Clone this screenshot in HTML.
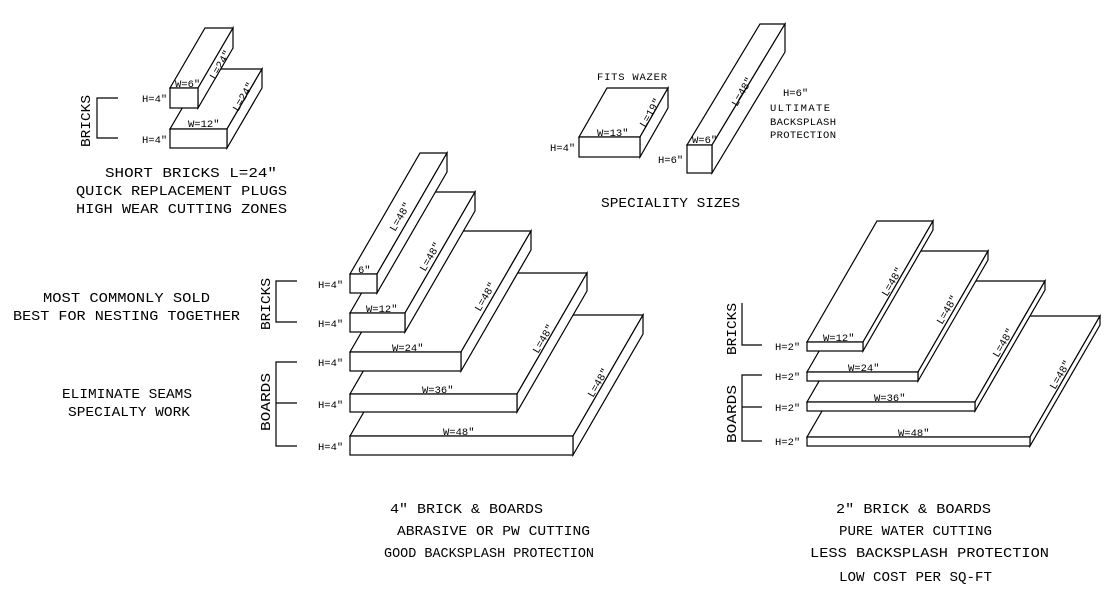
<!DOCTYPE html>
<html><head><meta charset="utf-8"><style>
html,body{margin:0;padding:0;background:#fff;}
svg{display:block}
text{font-family:"Liberation Mono",monospace;fill:#000;}
.t{font-size:14px;}
.s{font-size:10.5px;}
</style></head><body>
<svg width="1116" height="602" viewBox="0 0 1116 602" xmlns="http://www.w3.org/2000/svg">
<rect width="1116" height="602" fill="#fff"/>
<g fill="#fff" stroke="#000" stroke-width="1.2" stroke-linejoin="miter">
<polygon points="170,129 227,129 262,69 205,69"/><polygon points="227,129 262,69 262,88 227,148"/><rect x="170" y="129" width="57" height="19"/>
<polygon points="170,88 198,88 233,28 205,28"/><polygon points="198,88 233,28 233,48 198,108"/><rect x="170" y="88" width="28" height="20"/>
<polygon points="579,137 640,137 668,88 607,88"/><polygon points="640,137 668,88 668,108 640,157"/><rect x="579" y="137" width="61" height="20"/>
<polygon points="687,145 712,145 785,24 760,24"/><polygon points="712,145 785,24 785,52 712,173"/><rect x="687" y="145" width="25" height="28"/>
<polygon points="350,436 573,436 643,315 420,315"/><polygon points="573,436 643,315 643,334 573,455"/><rect x="350" y="436" width="223" height="19"/>
<polygon points="350,394 517,394 587,273 420,273"/><polygon points="517,394 587,273 587,291 517,412"/><rect x="350" y="394" width="167" height="18"/>
<polygon points="350,352 461,352 531,231 420,231"/><polygon points="461,352 531,231 531,250 461,371"/><rect x="350" y="352" width="111" height="19"/>
<polygon points="350,313 405,313 475,192 420,192"/><polygon points="405,313 475,192 475,211 405,332"/><rect x="350" y="313" width="55" height="19"/>
<polygon points="350,274 377,274 447,153 420,153"/><polygon points="377,274 447,153 447,172 377,293"/><rect x="350" y="274" width="27" height="19"/>
<polygon points="807,437 1030,437 1100,316 877,316"/><polygon points="1030,437 1100,316 1100,325 1030,446"/><rect x="807" y="437" width="223" height="9"/>
<polygon points="807,402 975,402 1045,281 877,281"/><polygon points="975,402 1045,281 1045,290 975,411"/><rect x="807" y="402" width="168" height="9"/>
<polygon points="807,372 918,372 988,251 877,251"/><polygon points="918,372 988,251 988,260 918,381"/><rect x="807" y="372" width="111" height="9"/>
<polygon points="807,342 863,342 933,221 877,221"/><polygon points="863,342 933,221 933,230 863,351"/><rect x="807" y="342" width="56" height="9"/>
</g>
<g fill="none" stroke="#000" stroke-width="1.2">
<polyline points="118,98 97,98 97,138 118,138"/>
<polyline points="297,281 276,281 276,322 297,322"/>
<polyline points="297,362 276,362 276,446 297,446"/><line x1="276" y1="403" x2="297" y2="403"/>
<polyline points="742,303 742,345 762,345"/>
<polyline points="762,375 742,375 742,441 762,441"/><line x1="742" y1="407" x2="762" y2="407"/>
</g>
<text class="t" transform="translate(90,147) rotate(-90)" textLength="52" lengthAdjust="spacingAndGlyphs">BRICKS</text>
<text class="t" transform="translate(270,330) rotate(-90)" textLength="52" lengthAdjust="spacingAndGlyphs">BRICKS</text>
<text class="t" transform="translate(270,431) rotate(-90)" textLength="58" lengthAdjust="spacingAndGlyphs">BOARDS</text>
<text class="t" transform="translate(736,355) rotate(-90)" textLength="52" lengthAdjust="spacingAndGlyphs">BRICKS</text>
<text class="t" transform="translate(736,443) rotate(-90)" textLength="58" lengthAdjust="spacingAndGlyphs">BOARDS</text>
<g>
<text x="142" y="102" class="s">H=4"</text><text x="142" y="143" class="s">H=4"</text>
<text x="318" y="288" class="s">H=4"</text><text x="318" y="327" class="s">H=4"</text><text x="318" y="366" class="s">H=4"</text><text x="318" y="408" class="s">H=4"</text><text x="318" y="450" class="s">H=4"</text>
<text x="775" y="350" class="s">H=2"</text><text x="775" y="380" class="s">H=2"</text><text x="775" y="411" class="s">H=2"</text><text x="775" y="445" class="s">H=2"</text>
<text x="550" y="151" class="s">H=4"</text><text x="658" y="163" class="s">H=6"</text>
</g>
<text class="s" x="175" y="87">W=6"</text>
<text class="s" x="188" y="127">W=12"</text>
<text class="s" x="358" y="273">6"</text>
<text class="s" x="366" y="312">W=12"</text>
<text class="s" x="392" y="351">W=24"</text>
<text class="s" x="422" y="393">W=36"</text>
<text class="s" x="443" y="435">W=48"</text>
<text class="s" x="597" y="136">W=13"</text>
<text class="s" x="692" y="143">W=6"</text>
<text class="s" x="823" y="341">W=12"</text>
<text class="s" x="848" y="371">W=24"</text>
<text class="s" x="874" y="401">W=36"</text>
<text class="s" x="898" y="436">W=48"</text>
<text class="s" transform="translate(215,80) rotate(-60)">L=24"</text>
<text class="s" transform="translate(238,112) rotate(-60)">L=24"</text>
<text class="s" transform="translate(395,232) rotate(-60)">L=48"</text>
<text class="s" transform="translate(425,272) rotate(-60)">L=48"</text>
<text class="s" transform="translate(480,312) rotate(-60)">L=48"</text>
<text class="s" transform="translate(538,354) rotate(-60)">L=48"</text>
<text class="s" transform="translate(593,398) rotate(-60)">L=48"</text>
<text class="s" transform="translate(645,128) rotate(-60)">L=19"</text>
<text class="s" transform="translate(737,107) rotate(-60)">L=48"</text>
<text class="s" transform="translate(887,297) rotate(-60)">L=48"</text>
<text class="s" transform="translate(942,325) rotate(-60)">L=48"</text>
<text class="s" transform="translate(998,358) rotate(-60)">L=48"</text>
<text class="s" transform="translate(1055,390) rotate(-60)">L=48"</text>
<text class="s" x="597" y="80" textLength="70">FITS WAZER</text>
<text class="s" x="783" y="96">H=6"</text>
<text class="s" x="770" y="111" textLength="60">ULTIMATE</text>
<text class="s" x="770" y="125" textLength="66">BACKSPLASH</text>
<text class="s" x="770" y="138" textLength="66">PROTECTION</text>
<g class="t">
<text x="105" y="177" textLength="172" lengthAdjust="spacingAndGlyphs">SHORT BRICKS L=24"</text>
<text x="76" y="195" textLength="211" lengthAdjust="spacingAndGlyphs">QUICK REPLACEMENT PLUGS</text>
<text x="76" y="213" textLength="211" lengthAdjust="spacingAndGlyphs">HIGH WEAR CUTTING ZONES</text>
<text x="601" y="207" textLength="139" lengthAdjust="spacingAndGlyphs">SPECIALITY SIZES</text>
<text x="43" y="302" textLength="167" lengthAdjust="spacingAndGlyphs">MOST COMMONLY SOLD</text>
<text x="13" y="320" textLength="227" lengthAdjust="spacingAndGlyphs">BEST FOR NESTING TOGETHER</text>
<text x="62" y="398" textLength="130" lengthAdjust="spacingAndGlyphs">ELIMINATE SEAMS</text>
<text x="68" y="416" textLength="122" lengthAdjust="spacingAndGlyphs">SPECIALTY WORK</text>
<text x="390" y="513" textLength="153" lengthAdjust="spacingAndGlyphs">4" BRICK &amp; BOARDS</text>
<text x="397" y="535" textLength="193" lengthAdjust="spacingAndGlyphs">ABRASIVE OR PW CUTTING</text>
<text x="384" y="557" textLength="210" lengthAdjust="spacingAndGlyphs">GOOD BACKSPLASH PROTECTION</text>
<text x="836" y="513" textLength="155" lengthAdjust="spacingAndGlyphs">2" BRICK &amp; BOARDS</text>
<text x="839" y="535" textLength="153" lengthAdjust="spacingAndGlyphs">PURE WATER CUTTING</text>
<text x="810" y="557" textLength="239" lengthAdjust="spacingAndGlyphs">LESS BACKSPLASH PROTECTION</text>
<text x="839" y="581" textLength="153" lengthAdjust="spacingAndGlyphs">LOW COST PER SQ-FT</text>
</g>
</svg>
</body></html>
